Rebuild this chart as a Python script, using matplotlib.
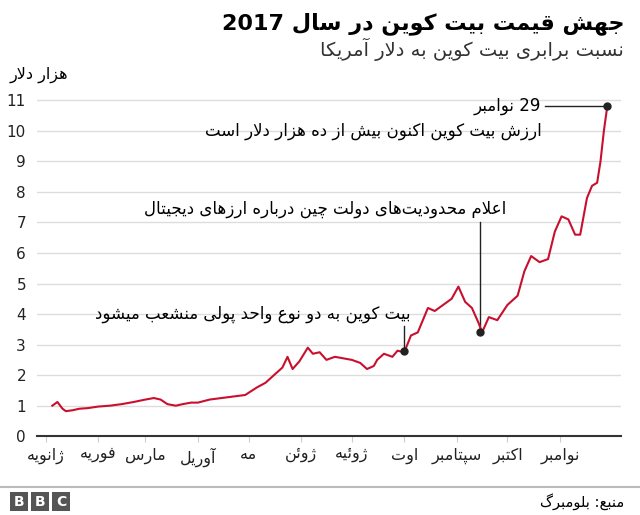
import matplotlib
matplotlib.use("Agg")
import matplotlib.pyplot as plt
import re

# ---------- minimal Persian shaping ----------
F = {  # iso, fin, ini, med
 'ا':(0xFE8D,0xFE8E,None,None),'آ':(0xFE81,0xFE82,None,None),
 'ب':(0xFE8F,0xFE90,0xFE91,0xFE92),'پ':(0xFB56,0xFB57,0xFB58,0xFB59),
 'ت':(0xFE95,0xFE96,0xFE97,0xFE98),'ث':(0xFE99,0xFE9A,0xFE9B,0xFE9C),
 'ج':(0xFE9D,0xFE9E,0xFE9F,0xFEA0),'چ':(0xFB7A,0xFB7B,0xFB7C,0xFB7D),
 'ح':(0xFEA1,0xFEA2,0xFEA3,0xFEA4),'خ':(0xFEA5,0xFEA6,0xFEA7,0xFEA8),
 'د':(0xFEA9,0xFEAA,None,None),'ذ':(0xFEAB,0xFEAC,None,None),
 'ر':(0xFEAD,0xFEAE,None,None),'ز':(0xFEAF,0xFEB0,None,None),
 'ژ':(0xFB8A,0xFB8B,None,None),
 'س':(0xFEB1,0xFEB2,0xFEB3,0xFEB4),'ش':(0xFEB5,0xFEB6,0xFEB7,0xFEB8),
 'ص':(0xFEB9,0xFEBA,0xFEBB,0xFEBC),'ض':(0xFEBD,0xFEBE,0xFEBF,0xFEC0),
 'ط':(0xFEC1,0xFEC2,0xFEC3,0xFEC4),'ظ':(0xFEC5,0xFEC6,0xFEC7,0xFEC8),
 'ع':(0xFEC9,0xFECA,0xFECB,0xFECC),'غ':(0xFECD,0xFECE,0xFECF,0xFED0),
 'ف':(0xFED1,0xFED2,0xFED3,0xFED4),'ق':(0xFED5,0xFED6,0xFED7,0xFED8),
 'ک':(0xFB8E,0xFB8F,0xFB90,0xFB91),'گ':(0xFB92,0xFB93,0xFB94,0xFB95),
 'ل':(0xFEDD,0xFEDE,0xFEDF,0xFEE0),'م':(0xFEE1,0xFEE2,0xFEE3,0xFEE4),
 'ن':(0xFEE5,0xFEE6,0xFEE7,0xFEE8),'و':(0xFEED,0xFEEE,None,None),
 'ه':(0xFEE9,0xFEEA,0xFEEB,0xFEEC),'ی':(0xFBFC,0xFBFD,0xFBFE,0xFBFF),
 'ئ':(0xFE89,0xFE8A,0xFE8B,0xFE8C),
}

def shape(s):
    s = s.replace('لا', '\uE000').replace('لآ', '\uE001')
    chars = list(s)
    out = []
    def joins_next(c):
        if c in ('\uE000', '\uE001'):
            return False
        return c in F and F[c][2] is not None
    def joins_prev(c):
        return c in F or c in ('\uE000', '\uE001')
    for i, c in enumerate(chars):
        prev = chars[i-1] if i > 0 else None
        nxt = chars[i+1] if i+1 < len(chars) else None
        p = prev is not None and joins_next(prev) and joins_prev(c)
        n = nxt is not None and joins_next(c) and joins_prev(nxt)
        if c == '\uE000':
            out.append(chr(0xFEFC if p else 0xFEFB)); continue
        if c == '\uE001':
            out.append(chr(0xFEF6 if p else 0xFEF5)); continue
        if c == '\u200c':
            continue
        if c not in F:
            out.append(c); continue
        iso, fin, ini, med = F[c]
        if p and n: out.append(chr(med))
        elif p: out.append(chr(fin))
        elif n: out.append(chr(ini))
        else: out.append(chr(iso))
    vis = ''.join(out)[::-1]
    vis = re.sub(r'[0-9A-Za-z.]+', lambda m: m.group(0)[::-1], vis)
    return vis

# ---------- data ----------
days = [4, 7, 10, 12, 16, 20, 25, 31, 38, 45, 52, 59, 64, 68, 72, 77, 81, 86, 90, 97,
        104, 111, 118, 125, 130, 135, 140, 143, 146, 150, 155, 158, 162, 166, 171,
        176, 181, 186, 190, 194, 196, 200, 205, 208, 212, 216, 220, 226, 230, 235,
        240, 244, 248, 252, 256, 258, 262, 267, 273, 279, 283, 287, 292, 297, 301,
        305, 309, 313, 316, 320, 323, 326, 328, 330, 332]
price = [1.0, 1.12, 0.9, 0.82, 0.85, 0.9, 0.92, 0.97, 1.0, 1.05, 1.12, 1.2, 1.25,
         1.2, 1.05, 1.0, 1.05, 1.1, 1.1, 1.2, 1.25, 1.3, 1.35, 1.6, 1.75, 2.0, 2.25,
         2.6, 2.2, 2.45, 2.9, 2.7, 2.75, 2.5, 2.6, 2.55, 2.5, 2.4, 2.2, 2.3, 2.5, 2.7,
         2.6, 2.8, 2.75, 3.3, 3.4, 4.2, 4.1, 4.3, 4.5, 4.9, 4.4, 4.2, 3.7, 3.4, 3.9,
         3.8, 4.3, 4.6, 5.4, 5.9, 5.7, 5.8, 6.7, 7.2, 7.1, 6.6, 6.6, 7.8, 8.2, 8.3,
         9.0, 10.0, 10.8]
month_days = [0, 31, 59, 90, 120, 151, 181, 212, 243, 273, 304]
month_labels = ['ژانویه', 'فوریه', 'مارس', 'آوریل', 'مه', 'ژوئن', 'ژوئیه', 'اوت',
                'سپتامبر', 'اکتبر', 'نوامبر']
yticks = list(range(0, 12))

plt.rcParams['font.family'] = ['DejaVu Sans']
fig = plt.figure(figsize=(6.4, 5.15), dpi=100)
ax = fig.add_axes([0.058, 0.153, 0.912, 0.67])
ax.plot(days, price, color='#c8102e', lw=1.5, zorder=3)
ax.set_xlim(-5, 340)
ax.set_ylim(0, 11.3)
ax.set_yticks(yticks)
ax.set_yticklabels([str(v) for v in yticks], fontsize=11, color='#222')
ax.set_xticks(month_days)
ax.set_xticklabels([shape(m) for m in month_labels], fontsize=11.5, color='#222')
ax.grid(axis='y', color='#dddddd', lw=1)
ax.set_axisbelow(True)
for s in ['top', 'right', 'left']:
    ax.spines[s].set_visible(False)
ax.spines['bottom'].set_color('#333')
ax.spines['bottom'].set_linewidth(1.5)
ax.tick_params(axis='y', length=0, pad=8)
ax.tick_params(axis='x', length=4, color='#ccc', pad=4)

fs = 12
# annotations
ax.plot([257], [3.4], 'o', color='#222', ms=5, zorder=4)
ax.plot([257, 257], [3.4, 7.0], color='#222', lw=1)
ax.text(272, 7.15, shape('اعلام محدودیت‌های دولت چین درباره ارزهای دیجیتال'),
        ha='right', va='bottom', fontsize=fs)
ax.plot([212], [2.8], 'o', color='#222', ms=5, zorder=4)
ax.plot([212, 212], [2.8, 3.6], color='#222', lw=1)
ax.text(216, 3.7, shape('بیت کوین به دو نوع واحد پولی منشعب میشود'),
        ha='right', va='bottom', fontsize=fs)
ax.plot([332], [10.8], 'o', color='#222', ms=5, zorder=5)
ax.plot([295, 332], [10.8, 10.8], color='#222', lw=1)
ax.text(293, 10.8, shape('29 نوامبر'), ha='right', va='center', fontsize=fs)
ax.text(293, 10.0, shape('ارزش بیت کوین اکنون بیش از ده هزار دلار است'),
        ha='right', va='center', fontsize=fs)

fig.text(0.975, 0.955, shape('جهش قیمت بیت کوین در سال 2017'), ha='right',
         va='center', fontsize=16, fontweight='bold')
fig.text(0.975, 0.905, shape('نسبت برابری بیت کوین به دلار آمریکا'), ha='right',
         va='center', fontsize=14, color='#333')
fig.text(0.015, 0.855, shape('هزار دلار'), ha='left', va='center', fontsize=11.5)

fig.add_artist(plt.Line2D([0, 1], [0.054, 0.054], color='#bbbbbb', lw=1.5))
for i, ch in enumerate('BBC'):
    x0 = 0.015 + i * 0.033
    fig.add_artist(plt.Rectangle((x0, 0.008), 0.029, 0.036, color='#555', lw=0))
    fig.text(x0 + 0.0145, 0.026, ch, ha='center', va='center', color='white',
             fontsize=10, fontweight='bold')
fig.text(0.975, 0.026, shape('منبع: بلومبرگ'), ha='right', va='center', fontsize=10.5)

fig.savefig('out.png', dpi=100)
